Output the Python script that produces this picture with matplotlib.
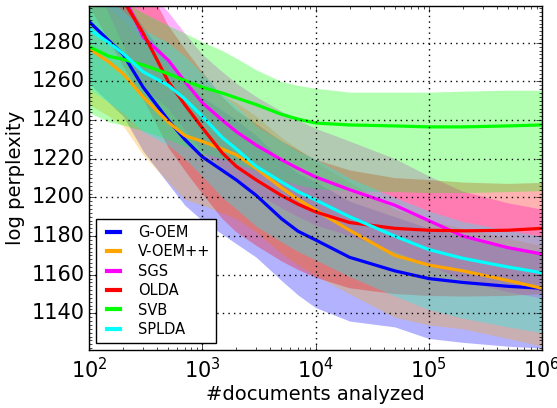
import numpy as np
import matplotlib
matplotlib.use("Agg")
import matplotlib.pyplot as plt
from matplotlib.ticker import MultipleLocator

plt.style.use("classic")

# documents analyzed
docs = [100, 150, 200, 300, 500, 700, 1000, 1500, 2000, 3000, 5000, 7000,
        1e4, 2e4, 5e4, 1e5, 2e5, 5e5, 1e6]

g_oem = [1291, 1281, 1274, 1257, 1240, 1230, 1221, 1214, 1209, 1201, 1189, 1182.5,
         1178, 1169, 1162, 1158, 1156, 1154, 1153]
v_oem = [1277, 1270, 1264, 1252, 1239, 1232, 1229, 1225, 1222, 1215, 1205, 1199,
         1193.5, 1183, 1170, 1165, 1162, 1157, 1153]
sgs = [1344, 1321, 1305, 1283, 1271, 1260, 1249, 1240, 1234, 1227, 1219.5, 1215,
       1210.6, 1204, 1196, 1188, 1180, 1174, 1170.7]
olda = [1333, 1315, 1302, 1285, 1260, 1248, 1236, 1223, 1216, 1209, 1201, 1196.5,
        1192.5, 1187, 1184, 1183, 1182.7, 1183, 1184]
svb = [1278, 1273, 1271.5, 1268.5, 1264, 1260.5, 1257, 1254, 1251.5, 1248, 1243, 1240.5,
       1238.5, 1237.5, 1237, 1236.5, 1236.5, 1237, 1237.5]
splda = [1287, 1280, 1274.5, 1265, 1258, 1251, 1242, 1231, 1225, 1216, 1208, 1203,
         1198.7, 1190, 1180, 1173, 1168.5, 1164, 1161]

# spread of each run (above / below the mean)
g_oem_up = [30, 30, 30, 31, 31, 31, 31, 31, 31, 31, 30, 30, 30, 29, 28, 26, 24, 21, 19]
g_oem_lo = [32, 32, 32, 33, 33, 34, 33, 33, 33, 32, 32, 33, 35, 33, 29, 31, 31, 31, 31]
v_oem_up = [28, 28, 28, 28, 28, 28, 28, 28, 27, 27, 26, 26, 25, 25, 24, 23, 22, 22, 22]
v_oem_lo = [29, 28, 27, 30, 31, 33, 33, 33, 33, 33, 34, 34, 34, 33, 32, 31, 30, 30, 30]
sgs_up = [26, 26, 26, 26, 25, 25, 25, 25, 25, 25, 25, 25, 25, 25, 24, 23, 23, 23, 23]
sgs_lo = [26, 26, 26, 26, 25, 25, 25, 25, 25, 25, 25, 25, 25, 24, 24, 23, 23, 23, 23]
olda_up = [29, 29, 29, 29, 29, 29, 29, 29, 29, 29, 28, 28, 27, 27, 26, 26, 25, 24, 23.5]
olda_lo = [34, 34, 34, 34, 34, 34, 34, 34, 34, 34, 34, 34, 34, 34, 34, 34, 34, 34, 34]
svb_up = [32, 32, 30, 27, 25, 24.5, 23.5, 22, 20.5, 18, 17, 17.5, 18, 17, 17.5, 18, 18.5, 18.5, 18]
svb_lo = [34, 34, 34, 34, 34, 34, 34, 34, 34, 34, 34, 34, 34, 34, 34, 34, 34, 34, 34]
splda_up = [22, 22, 22, 22, 22, 22, 22, 22, 22, 21, 21, 21, 21, 20, 20, 20, 19, 19, 19]
splda_lo = [31, 31, 31, 31, 31, 31, 31, 31, 31, 31, 31, 31, 31, 31, 31, 31, 31, 31, 31]

names = ["G-OEM", "V-OEM++", "SGS", "OLDA", "SVB", "SPLDA"]
colors = ["blue", "orange", "magenta", "red", "lime", "cyan"]
means = [g_oem, v_oem, sgs, olda, svb, splda]
ups = [g_oem_up, v_oem_up, sgs_up, olda_up, svb_up, splda_up]
los = [g_oem_lo, v_oem_lo, sgs_lo, olda_lo, svb_lo, splda_lo]

fig = plt.figure(figsize=(5.57, 4.08), dpi=100)
ax = fig.add_axes([0.16, 0.142, 0.813, 0.843])

x = np.array(docs)
for m, u, l, c in zip(means, ups, los, colors):
    m = np.array(m)
    ax.fill_between(x, m - np.array(l), m + np.array(u), color=c, alpha=0.3, linewidth=0)

for m, c, n in zip(means, colors, names):
    ax.plot(x, m, color=c, linewidth=2.3, label=n)

ax.set_xscale("log")
ax.set_xlim(100, 1e6)
ax.set_ylim(1121, 1299)
ax.set_yticks([1140, 1160, 1180, 1200, 1220, 1240, 1260, 1280])
ax.yaxis.set_minor_locator(MultipleLocator(2))
ax.grid(True, which="major", color="black", linestyle=":", linewidth=1)
ax.tick_params(axis="x", labelsize=15, pad=5)
ax.tick_params(axis="y", labelsize=15, pad=3)
ax.set_xlabel("#documents analyzed", fontsize=14, labelpad=2)
ax.set_ylabel("log perplexity", fontsize=14, labelpad=5)

leg = ax.legend(loc="lower left", fontsize=10.5, handlelength=1.5, handletextpad=0.95,
                borderaxespad=0.5, labelspacing=0.3)
for h in leg.get_lines():
    h.set_linewidth(3)

fig.savefig("out.png", dpi=100)
